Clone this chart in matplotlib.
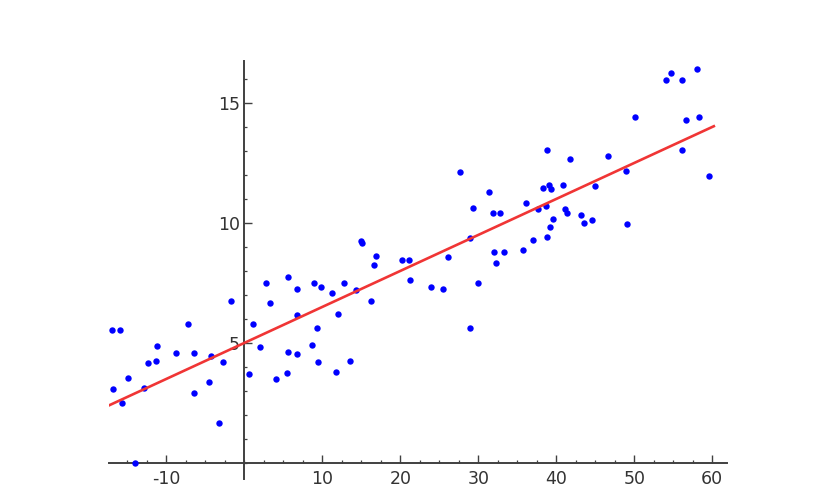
import matplotlib
matplotlib.use("Agg")
import matplotlib.pyplot as plt
from matplotlib.ticker import MultipleLocator, FuncFormatter

x_values = [-17.0, -15.94, -16.79, -15.64, -14.95, -14.01, -12.82, -12.31, -11.36, -11.15,
            -8.79, -7.26, -6.45, -6.45, -4.56, -4.31, -3.24, -2.77, -1.71, 0.64, 1.08, 2.01,
            2.78, 3.29, 4.03, 5.51, 5.56, 5.64, 6.76, 6.79, 6.79, 8.68, 8.94, 9.28, 9.41,
            9.79, 11.2, 11.72, 12.05, 12.78, 13.51, 14.28, 14.92, 15.09, 16.24, 16.63, 16.92,
            20.18, 21.12, 21.29, 23.94, 25.53, 26.08, 27.61, 28.94, 28.97, 29.32, 29.92,
            31.41, 31.85, 32.05, 32.27, 32.78, 33.26, 35.73, 36.15, 36.97, 37.65, 38.33,
            38.64, 38.77, 38.85, 39.06, 39.23, 39.32, 39.58, 40.86, 41.15, 41.41, 41.72,
            43.17, 43.55, 44.62, 44.92, 46.67, 48.94, 49.03, 50.09, 54.03, 54.71, 56.08,
            56.15, 56.67, 58.0, 58.26, 59.58]
y_values = [5.54, 5.54, 3.07, 2.51, 3.53, 0.0, 3.13, 4.18, 4.25, 4.86,
            4.60, 5.78, 4.60, 2.90, 3.39, 4.46, 1.68, 4.22, 6.75, 3.70, 5.80, 4.85,
            7.51, 6.65, 3.51, 3.74, 4.63, 7.74, 4.53, 7.24, 6.15, 4.90, 7.49, 5.64, 4.21,
            7.32, 7.07, 3.78, 6.21, 7.51, 4.24, 7.21, 9.26, 9.15, 6.75, 8.26, 8.64,
            8.47, 8.47, 7.64, 7.32, 7.26, 8.57, 12.14, 9.39, 5.64, 10.64, 7.50,
            11.29, 10.40, 8.80, 8.32, 10.42, 8.80, 8.89, 10.85, 9.29, 10.60, 11.45,
            10.70, 13.05, 9.42, 11.60, 9.83, 11.40, 10.18, 11.58, 10.58, 10.42, 12.65,
            10.33, 10.0, 10.13, 11.54, 12.79, 12.18, 9.96, 14.42, 15.97, 16.24, 13.03,
            15.94, 14.28, 16.42, 14.40, 11.96]

fit_intercept = 5.0
fit_slope = 0.15
fit_x = [-17.35, 60.2]
fit_y = [fit_intercept + fit_slope * v for v in fit_x]

x_major_ticks = [-10, 10, 20, 30, 40, 50, 60]
y_major_ticks = [5, 10, 15]

plt.rcParams['axes.unicode_minus'] = False
plt.rcParams['font.family'] = ['DejaVu Sans']

fig = plt.figure(figsize=(8.24, 4.94), dpi=100)
ax = fig.add_axes([109 / 824, (494 - 479) / 494, (726.7 - 109) / 824, (479 - 60.7) / 494])

ax.plot(x_values, y_values, 'o', color='#0000ff', markersize=4.6, markeredgewidth=0, zorder=2)
ax.plot(fit_x, fit_y, color='#f03535', linewidth=1.9, zorder=3)

ax.set_xlim(-17.35, 61.85)
ax.set_ylim(-0.67, 16.76)

for side in ['top', 'right']:
    ax.spines[side].set_visible(False)
ax.spines['left'].set_position(('data', 0))
ax.spines['bottom'].set_position(('data', 0))
for side in ['left', 'bottom']:
    ax.spines[side].set_color('#404040')
    ax.spines[side].set_linewidth(1.4)
    ax.spines[side].set_zorder(1)

ax.set_xticks(x_major_ticks)
ax.set_yticks(y_major_ticks)
ax.xaxis.set_minor_locator(MultipleLocator(2.5))
ax.yaxis.set_minor_locator(MultipleLocator(1))
ax.xaxis.set_major_formatter(FuncFormatter(lambda v, p: f"{int(round(v))}"))
ax.yaxis.set_major_formatter(FuncFormatter(lambda v, p: f"{int(round(v))}"))

ax.tick_params(axis='both', which='major', direction='in', length=5.5, width=1.0,
               color='#404040', labelsize=12.5, labelcolor='#333333')
ax.tick_params(axis='both', which='minor', direction='in', length=2.5, width=0.9,
               color='#404040')
ax.tick_params(axis='x', which='major', pad=5)
ax.tick_params(axis='y', which='major', pad=3)

fig.savefig('out.png', dpi=100, facecolor='white')
